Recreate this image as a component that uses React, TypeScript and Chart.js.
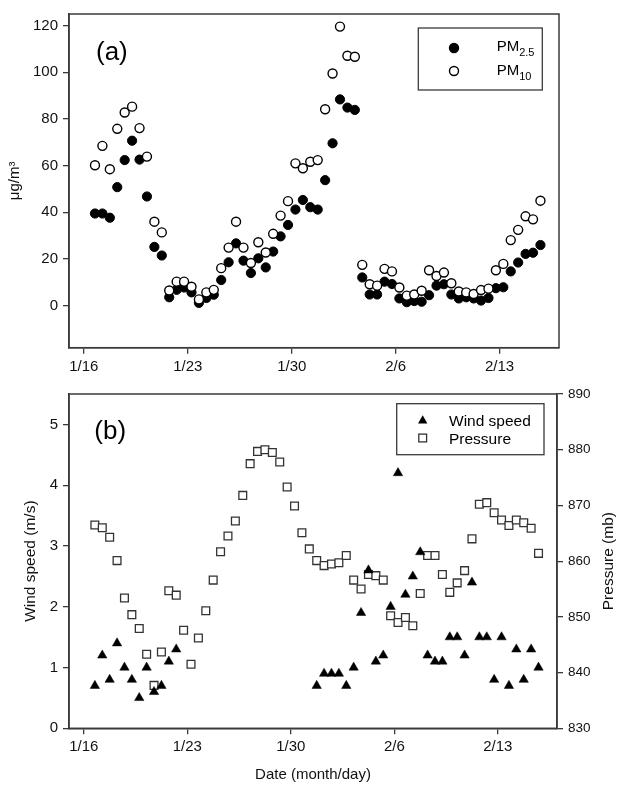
import React, { useEffect, useRef } from 'react';
import { Chart, registerables } from 'chart.js';

Chart.register(...registerables);

// ---------------- data ----------------
// sampling times in days after 1/16 (two samples per day)
const sampleDays = [
  0.75, 1.25, 1.75, 2.25, 2.75, 3.25, 3.75, 4.25, 4.75, 5.25,
  5.75, 6.25, 6.75, 7.25, 7.75, 8.25, 8.75, 9.25, 9.75, 10.25,
  10.75, 11.25, 11.75, 12.25, 12.75, 13.25, 13.75, 14.25, 14.75, 15.25,
  15.75, 16.25, 16.75, 17.25, 17.75, 18.25, 18.75, 19.25, 19.75, 20.25,
  20.75, 21.25, 21.75, 22.25, 22.75, 23.25, 23.75, 24.25, 24.75, 25.25,
  25.75, 26.25, 26.75, 27.25, 27.75, 28.25, 28.75, 29.25, 29.75, 30.25,
  30.75,
];

const pm25 = [
  39.5, 39.5, 37.7, 50.8, 62.4, 70.7, 62.6, 46.8, 25.2, 21.5,
  3.6, 6.8, 7.8, 5.7, 1.2, 3.3, 4.7, 11.0, 18.6, 26.7,
  19.3, 14.0, 20.3, 16.4, 23.2, 29.7, 34.6, 41.2, 45.3, 42.2,
  41.2, 53.8, 69.6, 88.4, 84.9, 83.9, 12.1, 4.8, 4.8, 10.3,
  9.3, 3.1, 1.5, 2.0, 1.7, 4.5, 8.6, 9.2, 4.8, 3.1,
  3.6, 3.1, 2.2, 3.3, 7.5, 7.9, 14.7, 18.5, 22.2, 22.7,
  26.0,
];

const pm10 = [
  60.2, 68.5, 58.5, 75.8, 82.8, 85.3, 76.1, 63.9, 36.0, 31.4,
  6.5, 10.3, 10.3, 8.1, 2.7, 5.7, 6.8, 16.1, 24.9, 36.0,
  24.9, 18.3, 27.2, 22.8, 30.8, 38.6, 44.8, 61.0, 58.9, 61.7,
  62.4, 84.2, 99.5, 119.6, 107.1, 106.7, 17.5, 9.2, 8.6, 15.8,
  14.7, 7.8, 4.3, 4.8, 6.4, 15.2, 12.7, 14.2, 9.6, 6.1,
  5.7, 5.0, 6.7, 7.3, 15.2, 17.9, 28.1, 32.5, 38.3, 37.0,
  45.0,
];

const windSpeed = [
  0.7, 1.2, 0.8, 1.4, 1.0, 0.8, 0.5, 1.0, 0.6, 0.7,
  1.1, 1.3, null, null, null, null, null, null, null, null,
  null, null, null, null, null, null, null, null, null, null,
  0.7, 0.9, 0.9, 0.9, 0.7, 1.0, 1.9, 2.6, 1.1, 1.2,
  2.0, 4.2, 2.2, 2.5, 2.9, 1.2, 1.1, 1.1, 1.5, 1.5,
  1.2, 2.4, 1.5, 1.5, 0.8, 1.5, 0.7, 1.3, 0.8, 1.3,
  1.0,
];

const pressure = [
  866.5, 866.0, 864.3, 860.1, 853.4, 850.4, 847.9, 843.3, 837.7, 843.7,
  854.7, 853.9, 847.6, 841.5, 846.2, 851.1, 856.6, 861.7, 864.5, 867.2,
  871.8, 877.5, 879.7, 880.0, 879.5, 877.8, 873.3, 869.9, 865.1, 862.2,
  860.1, 859.2, 859.5, 859.7, 861.0, 856.6, 855.0, 857.6, 857.4, 856.6,
  850.2, 849.0, 849.9, 848.4, 854.2, 861.0, 861.0, 857.6, 854.4, 856.1,
  858.3, 864.0, 870.2, 870.5, 868.7, 867.4, 866.4, 867.4, 866.9, 865.9,
  861.4,
];

const dateTickDays = [0, 7, 14, 21, 28];
const dateTickLabels = ['1/16', '1/23', '1/30', '2/6', '2/13'];
const pmTicks = [0, 20, 40, 60, 80, 100, 120];
const windTicks = [0, 1, 2, 3, 4, 5];
const pressureTicks = [830, 840, 850, 860, 870, 880, 890];

const pmLegend = [
  { main: 'PM', sub: '2.5' },
  { main: 'PM', sub: '10' },
];
const metLegend = ['Wind speed', 'Pressure'];
const panelLabels = ['(a)', '(b)'];

// ---------------- styling ----------------
const FONT = '"Liberation Sans", Arial, Helvetica, sans-serif';
const AXIS_COLOR = '#3a3a3a';
const TEXT_COLOR = '#111';

type Pt = { x: number; y: number };
function toPoints(values: (number | null)[]): Pt[] {
  const out: Pt[] = [];
  sampleDays.forEach((x, i) => {
    const v = values[i];
    if (v !== null && v !== undefined) out.push({ x, y: v });
  });
  return out;
}

function fixedTicks(list: number[]) {
  return (scale: any) => {
    scale.ticks = list.map((v) => ({ value: v }));
  };
}

const gridStyle = {
  drawOnChartArea: false,
  drawTicks: true,
  tickLength: 6,
  color: AXIS_COLOR,
  lineWidth: 1.3,
};
const borderStyle = { display: true, color: AXIS_COLOR, width: 1.5 };

function dateAxis(height: number, title: string | null) {
  return {
    type: 'linear',
    position: 'bottom',
    min: -1,
    max: 32,
    afterBuildTicks: fixedTicks(dateTickDays),
    afterFit: (s: any) => {
      s.height = height;
    },
    ticks: {
      autoSkip: false,
      maxRotation: 0,
      padding: 4,
      color: TEXT_COLOR,
      font: { family: FONT, size: 15 },
      callback: (_v: any, i: number) => dateTickLabels[i],
    },
    grid: gridStyle,
    border: borderStyle,
    title: title
      ? {
          display: true,
          text: title,
          color: TEXT_COLOR,
          font: { family: FONT, size: 15 },
          padding: { top: 0, bottom: 2 },
        }
      : { display: false },
  };
}

function drawTriangle(ctx: CanvasRenderingContext2D, x: number, y: number, r: number) {
  ctx.beginPath();
  ctx.moveTo(x, y - r);
  ctx.lineTo(x + 0.866 * r, y + 0.5 * r);
  ctx.lineTo(x - 0.866 * r, y + 0.5 * r);
  ctx.closePath();
  ctx.fill();
}

const panelAPlugin = {
  id: 'panelADecor',
  afterDraw(chart: any) {
    const { ctx, chartArea: a } = chart;
    ctx.save();
    ctx.strokeStyle = AXIS_COLOR;
    ctx.lineWidth = 1.5;
    ctx.strokeRect(a.left, a.top, a.right - a.left, a.bottom - a.top);

    ctx.fillStyle = '#000';
    ctx.font = `26px ${FONT}`;
    ctx.textAlign = 'left';
    ctx.textBaseline = 'middle';
    ctx.fillText(panelLabels[0], a.left + 27, a.top + 39);

    const bx = a.right - 140.7;
    const by = a.top + 14;
    ctx.lineWidth = 1.3;
    ctx.strokeRect(bx, by, 124, 62);
    pmLegend.forEach((item, k) => {
      const my = by + 20 + k * 23;
      ctx.beginPath();
      ctx.arc(bx + 35.7, my, 4.5, 0, Math.PI * 2);
      ctx.fillStyle = k === 0 ? '#000' : '#fff';
      ctx.fill();
      ctx.strokeStyle = '#000';
      ctx.lineWidth = 1.4;
      ctx.stroke();
      ctx.fillStyle = '#000';
      ctx.textBaseline = 'alphabetic';
      ctx.font = `15px ${FONT}`;
      const tx = bx + 78.4;
      const ty = by + 23.4 + k * 23.3;
      ctx.fillText(item.main, tx, ty);
      const w = ctx.measureText(item.main).width;
      ctx.font = `11px ${FONT}`;
      ctx.fillText(item.sub, tx + w, ty + 5);
    });
    ctx.restore();
  },
};

const panelBPlugin = {
  id: 'panelBDecor',
  afterDraw(chart: any) {
    const { ctx, chartArea: a } = chart;
    ctx.save();
    ctx.strokeStyle = AXIS_COLOR;
    ctx.lineWidth = 1.5;
    ctx.strokeRect(a.left, a.top, a.right - a.left, a.bottom - a.top);

    ctx.fillStyle = '#000';
    ctx.font = `26px ${FONT}`;
    ctx.textAlign = 'left';
    ctx.textBaseline = 'middle';
    ctx.fillText(panelLabels[1], a.left + 25.3, a.top + 38);

    // right axis title (reads bottom-to-top)
    ctx.save();
    ctx.translate(609, (a.top + a.bottom) / 2);
    ctx.rotate(-Math.PI / 2);
    ctx.textAlign = 'center';
    ctx.textBaseline = 'middle';
    ctx.font = `15.5px ${FONT}`;
    ctx.fillStyle = TEXT_COLOR;
    ctx.fillText('Pressure (mb)', 0, 0);
    ctx.restore();

    // legend
    const bx = a.right - 160.3;
    const by = a.top + 9.7;
    ctx.strokeStyle = AXIS_COLOR;
    ctx.lineWidth = 1.3;
    ctx.strokeRect(bx, by, 147.3, 51);
    ctx.fillStyle = '#000';
    drawTriangle(ctx, bx + 26, by + 17, 5.4);
    ctx.fillStyle = '#fff';
    ctx.fillRect(bx + 26 - 3.9, by + 34.3 - 3.9, 7.8, 7.8);
    ctx.strokeStyle = '#333';
    ctx.lineWidth = 1.3;
    ctx.strokeRect(bx + 26 - 3.9, by + 34.3 - 3.9, 7.8, 7.8);
    ctx.fillStyle = '#000';
    ctx.font = `15.5px ${FONT}`;
    ctx.textAlign = 'left';
    ctx.textBaseline = 'alphabetic';
    ctx.fillText(metLegend[0], bx + 52.3, by + 21.8);
    ctx.fillText(metLegend[1], bx + 52.3, by + 39.8);
    ctx.restore();
  },
};

export default function App() {
  const refA = useRef<HTMLCanvasElement>(null);
  const refB = useRef<HTMLCanvasElement>(null);

  useEffect(() => {
    const chartA = new Chart(refA.current as HTMLCanvasElement, {
      type: 'scatter',
      data: {
        datasets: [
          {
            label: 'PM10',
            data: toPoints(pm10),
            order: 0,
            pointStyle: 'circle',
            pointRadius: 4.5,
            pointBackgroundColor: '#fff',
            pointBorderColor: '#000',
            pointBorderWidth: 1.4,
          },
          {
            label: 'PM2.5',
            data: toPoints(pm25),
            order: 1,
            pointStyle: 'circle',
            pointRadius: 4.6,
            pointBackgroundColor: '#000',
            pointBorderColor: '#000',
            pointBorderWidth: 1,
          },
        ],
      },
      options: {
        animation: false,
        responsive: false,
        devicePixelRatio: 1,
        events: [],
        layout: { padding: { top: 4.3, left: 0, right: 63, bottom: 0 } },
        plugins: { legend: { display: false }, tooltip: { enabled: false } },
        scales: {
          x: dateAxis(32.3, null) as any,
          y: {
            type: 'linear',
            position: 'left',
            min: -18,
            max: 125,
            afterBuildTicks: fixedTicks(pmTicks),
            afterFit: (s: any) => {
              s.width = 69;
            },
            ticks: {
              padding: 5,
              color: TEXT_COLOR,
              font: { family: FONT, size: 15 },
            },
            grid: gridStyle,
            border: borderStyle,
            title: {
              display: true,
              text: 'μg/m³',
              color: TEXT_COLOR,
              font: { family: FONT, size: 15 },
              padding: { top: 6, bottom: 0 },
            },
          },
        },
      },
      plugins: [panelAPlugin],
    } as any);

    const chartB = new Chart(refB.current as HTMLCanvasElement, {
      type: 'scatter',
      data: {
        datasets: [
          {
            label: 'Wind speed',
            data: toPoints(windSpeed),
            yAxisID: 'y',
            order: 0,
            pointStyle: 'triangle',
            pointRadius: 5.4,
            pointBackgroundColor: '#000',
            pointBorderColor: '#000',
            pointBorderWidth: 0.5,
          },
          {
            label: 'Pressure',
            data: toPoints(pressure),
            yAxisID: 'yP',
            order: 1,
            pointStyle: 'rect',
            pointRadius: 5.5,
            pointBackgroundColor: '#fff',
            pointBorderColor: '#333',
            pointBorderWidth: 1.3,
          },
        ],
      },
      options: {
        animation: false,
        responsive: false,
        devicePixelRatio: 1,
        events: [],
        layout: { padding: { top: 6, left: 0, right: 0, bottom: 0 } },
        plugins: { legend: { display: false }, tooltip: { enabled: false } },
        scales: {
          x: dateAxis(57.7, 'Date (month/day)') as any,
          y: {
            type: 'linear',
            position: 'left',
            min: 0,
            max: 5.5,
            afterBuildTicks: fixedTicks(windTicks),
            afterFit: (s: any) => {
              s.width = 69;
            },
            ticks: {
              padding: 5,
              color: TEXT_COLOR,
              font: { family: FONT, size: 15 },
            },
            grid: gridStyle,
            border: borderStyle,
            title: {
              display: true,
              text: 'Wind speed (m/s)',
              color: TEXT_COLOR,
              font: { family: FONT, size: 15.5 },
              padding: { top: 21.7, bottom: 0 },
            },
          },
          yP: {
            type: 'linear',
            position: 'right',
            min: 830,
            max: 890,
            afterBuildTicks: fixedTicks(pressureTicks),
            afterFit: (s: any) => {
              s.width = 65;
            },
            ticks: {
              padding: 5,
              color: TEXT_COLOR,
              font: { family: FONT, size: 13.5 },
            },
            grid: gridStyle,
            border: borderStyle,
            title: { display: false },
          },
        },
      },
      plugins: [panelBPlugin],
    } as any);

    return () => {
      chartA.destroy();
      chartB.destroy();
    };
  }, []);

  return (
    <div
      style={{
        position: 'absolute',
        left: 0,
        top: 0,
        width: 622,
        height: 786,
        background: '#fff',
        overflow: 'hidden',
      }}
    >
      <canvas
        ref={refA}
        width={622}
        height={380}
        style={{ position: 'absolute', left: 0, top: 0, width: 622, height: 380 }}
      />
      <canvas
        ref={refB}
        width={622}
        height={406}
        style={{ position: 'absolute', left: 0, top: 380, width: 622, height: 406 }}
      />
    </div>
  );
}
